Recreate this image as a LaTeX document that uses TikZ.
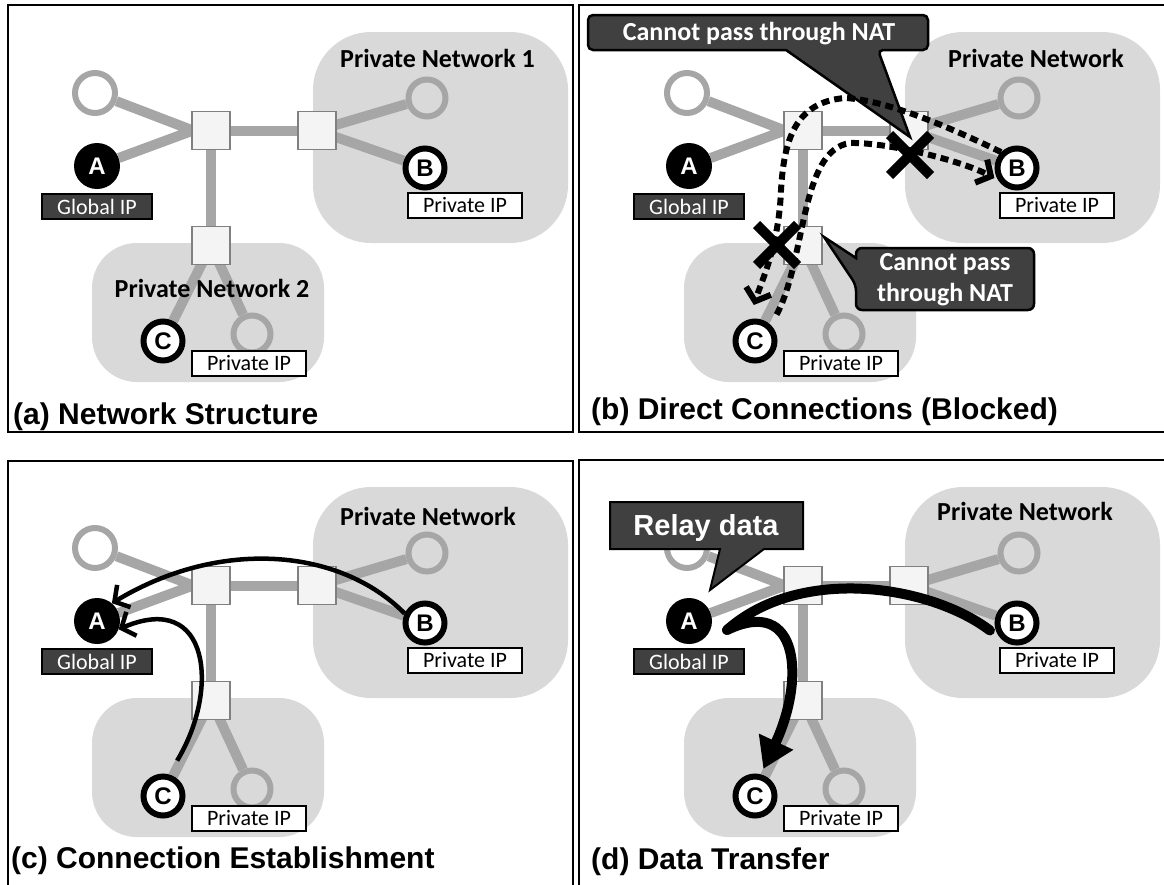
\documentclass[tikz,border=0pt]{standalone}
\usepackage{fontspec}
\setmainfont{Carlito}
\newfontfamily\capfont{Liberation Sans}
\usetikzlibrary{positioning,calc}
\usetikzlibrary{arrows.meta}
\usetikzlibrary{shapes.misc}
\definecolor{linkgray}{HTML}{A6A6A6}
\definecolor{netgray}{HTML}{D9D9D9}
\definecolor{boxgray}{HTML}{404040}
\definecolor{swgray}{HTML}{808080}
\definecolor{swfill}{HTML}{F4F4F4}
\pgfdeclarelayer{netarea}
\pgfdeclarelayer{background}
\pgfsetlayers{netarea,background,main}

\begin{document}
\begin{tikzpicture}[x=1pt,y=-1pt,
         link/.style = {draw=linkgray, line width=10pt},
         switch/.style = {draw=swgray, fill=swfill, line width=1.5pt,
         minimum size=38pt, inner sep=0pt},
         host/.style = {circle, draw=linkgray, line width=6pt,
         minimum size=37pt, inner sep=0pt},
         relay/.style = {circle, fill=black, text=white, minimum size=46pt,
         inner sep=0pt, font=\capfont\bfseries\fontsize{24}{24}\selectfont},
         peer/.style = {circle, draw=black, fill=white, line width=6pt,
         minimum size=39pt, inner sep=0pt,
         font=\capfont\bfseries\fontsize{24}{24}\selectfont},
         addr/.style = {draw=black, line width=2pt, minimum height=25pt,
         inner xsep=15pt, inner ysep=0pt, font=\fontsize{22}{22}\selectfont},
         globalip/.style = {addr, fill=boxgray, text=white},
         privip/.style = {addr, fill=white},
         netname/.style = {anchor=base west, inner sep=0pt,
         font=\bfseries\fontsize{26}{26}\selectfont},
         callout/.style = {fill=boxgray, draw=black, line width=2.5pt},
         calltext/.style = {text=white, inner sep=0pt, align=center,
         font=\bfseries\fontsize{26}{31}\selectfont},
         blocked/.style = {line width=6pt, dash pattern=on 8pt off 5pt,
         -{Straight Barb[length=11pt,width=26pt]}},
         xmark/.style = {cross out, draw=black, line width=10pt,
         minimum width=31pt, minimum height=31pt, inner sep=0pt},
         setup/.style = {line width=4.5pt, -{Straight Barb[length=11pt,width=26pt]}},
         relayed/.style = {line width=10pt, line cap=round},
         panel/.style = {draw=black, line width=2.5pt},
         caption/.style = {anchor=base west, inner sep=0pt,
         font=\capfont\bfseries\fontsize{30}{30}\selectfont}
]
      \useasboundingbox (0,0) rectangle (1164,884);
      \clip (0,0) rectangle (1164,884);

      % same network in every panel
      \foreach \p/\dx/\dy in {a/0/0, b/592/0, c/0/455, d/592/455}{
         \begin{scope}[shift={(\dx,\dy)}]
            \begin{pgfonlayer}{netarea}
               \fill[netgray, rounded corners=58pt] (313,32) rectangle (568,243);
               \fill[netgray, rounded corners=45pt] (92,243) rectangle (324,382);
            \end{pgfonlayer}

            \node[switch]                   (s1\p) at (211,130.5) {};
            \node[switch]                   (s2\p) at (317,130.5) {};
            \node[switch]                   (s3\p) at (211,245.5) {};
            \node[host, minimum size=40pt]  (h1\p) at (95,93)     {};
            \node[host]                     (h2\p) at (427,98)    {};
            \node[host]                     (h3\p) at (252,334)   {};
            \node[relay]                    (A\p)  at (97,166)    {A};
            \node[peer]                     (B\p)  at (425,168)   {B};
            \node[peer]                     (C\p)  at (163,341)   {C};
            \coordinate                     (v\p)  at (193,130.5);

            \begin{pgfonlayer}{background}
               \draw[link] (h1\p) -- (v\p) -- (A\p);
               \draw[link] (s1\p.center) -- (s2\p.center);
               \draw[link] (s1\p.center) -- (s3\p.center);
               \draw[link] (h2\p) -- (s2\p.center) -- (B\p);
               \draw[link] (h3\p) -- (s3\p.center) -- (C\p);
            \end{pgfonlayer}

            % addresses
            \node[globalip, below=4pt of A\p]         (g\p)  {Global IP};
            \node[privip] at ($(B\p)+(40,37)$)        (pb\p) {Private IP};
            \node[privip] at ($(C\p)+(86,22)$)        (pc\p) {Private IP};
         \end{scope}
      }

      \node[netname]              (na1) at (340,67)  {Private Network 1};
      \node[netname, anchor=base] (na2) at (212,297) {Private Network 2};
      \node[netname]              (nb)  at (948,67)  {Private Network};
      \node[netname]              (nc)  at (340,525) {Private Network};
      \node[netname]              (nd)  at (937,520) {Private Network};

      % (b) blocked
      \draw[callout, rounded corners=5pt] (588,15) -- (928,15) -- (928,50)
         -- (878,50) [sharp corners] -- (910,137) -- (786,50)
         [rounded corners=5pt] -- (588,50) -- cycle;
      \node[calltext] (nat1) at (759,34) {Cannot pass through NAT};
      \draw[callout, rounded corners=6pt] (856,248) -- (1034,248) -- (1034,310)
         -- (856,310) -- (856,285) [sharp corners] -- (824,237) -- (856,258)
         [rounded corners=6pt] -- cycle;
      \node[calltext] (nat2) at (945,280) {Cannot pass\\through NAT};

      \draw[blocked, shorten <=12pt, shorten >=4pt] (Cb.45)
         .. controls (806,260) and (800,150) .. (850,143)
         .. controls (885,142) and (960,160) .. (Bb.212);
      \draw[blocked, shorten >=15pt] (Bb.135)
         .. controls (945,125) and (885,100) .. (845,98)
         .. controls (795,102) and (784,140) .. (781,190)
         .. controls (779,245) and (762,280) .. (Cb.105);
      \node[xmark] (x1) at (910,155) {};
      \node[xmark] (x2) at (777,245) {};

      % (c) connection setup
      \draw[setup] (Bc.155) .. controls (340,548) and (220,538) .. (Ac.50);
      \draw[setup, shorten <=16pt] (Cc.75)
         .. controls (220,690) and (210,590) .. (Ac.-21);

      % (d) relay
      \coordinate (jd) at (727,630);
      \draw[relayed, shorten <=14pt] (Bd.225)
         .. controls (930,585) and (800,565) .. (jd);
      \draw[relayed, shorten >=6pt, -{Triangle[length=30pt,width=36pt]}] (jd)
         .. controls (800,595) and (805,680) .. (Cd.75);
      \draw[callout, line width=2pt] (610,502) -- (803,502) -- (803,549)
         -- (764,549) -- (710,590) -- (720,549) -- (610,549) -- cycle;
      \node[calltext, font=\capfont\bfseries\fontsize{29}{29}\selectfont]
         (rel) at (706,528) {Relay data};

      % frames and captions
      \draw[panel] (8,5) rectangle (573,432);
      \draw[panel] (579,5) rectangle (1172,432);
      \draw[panel] (8,461) rectangle (573,892);
      \draw[panel] (579,460) rectangle (1172,892);
      \node[caption] (ta) at (13,424)  {(a) Network Structure};
      \node[caption] (tb) at (591,419) {(b) Direct Connections (Blocked)};
      \node[caption] (tc) at (11,868)  {(c) Connection Establishment};
      \node[caption] (td) at (591,869) {(d) Data Transfer};
\end{tikzpicture}
\end{document}
